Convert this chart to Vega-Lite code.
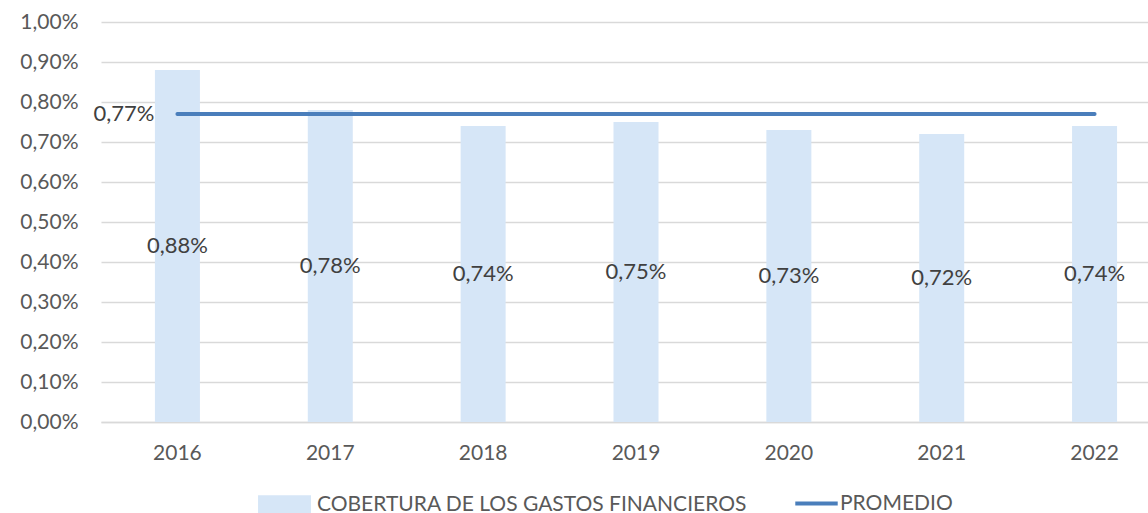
{
  "$schema": "https://vega.github.io/schema/vega-lite/v6.json",
  "autosize": "none",
  "padding": {"left": 101, "top": 22, "right": 0, "bottom": 91},
  "width": 1047,
  "height": 400,
  "background": "white",
  "config": {
    "locale": {"number": {"decimal": ",", "thousands": ".", "grouping": [3], "currency": ["", " €"]}},
    "view": {"stroke": null},
    "font": "Lato",
    "axis": {"labelFont": "Lato", "labelFontSize": 21, "labelColor": "#595959"},
    "legend": {"labelFont": "Lato", "labelFontSize": 21, "labelColor": "#595959", "labelLimit": 800}
  },
  "data": {
    "values": [
      {"year": "2016", "cobertura": 0.0088, "promedio": 0.0077},
      {"year": "2017", "cobertura": 0.0078, "promedio": 0.0077},
      {"year": "2018", "cobertura": 0.0074, "promedio": 0.0077},
      {"year": "2019", "cobertura": 0.0075, "promedio": 0.0077},
      {"year": "2020", "cobertura": 0.0073, "promedio": 0.0077},
      {"year": "2021", "cobertura": 0.0072, "promedio": 0.0077},
      {"year": "2022", "cobertura": 0.0074, "promedio": 0.0077}
    ]
  },
  "encoding": {
    "x": {
      "field": "year", "type": "nominal",
      "scale": {"range": [0, 1070], "paddingInner": 0, "paddingOuter": 0},
      "axis": {"title": null, "labelAngle": 0, "ticks": false, "domainColor": "#d9d9d9", "domainWidth": 1.5, "labelPadding": 20, "grid": false}
    }
  },
  "layer": [
    {
      "mark": {"type": "bar", "width": 45},
      "encoding": {
        "y": {
          "field": "cobertura", "type": "quantitative",
          "scale": {"domain": [0, 0.01], "nice": false},
          "axis": {"title": null, "format": ".2%", "values": [0, 0.001, 0.002, 0.003, 0.004, 0.005, 0.006, 0.007, 0.008, 0.009, 0.01], "domain": false, "ticks": false, "labelPadding": 23, "gridColor": "#d9d9d9", "gridWidth": 1.5}
        },
        "fill": {
          "datum": "COBERTURA DE LOS GASTOS FINANCIEROS",
          "scale": {"range": ["#d6e6f7"]},
          "legend": {"title": null, "orient": "none", "legendX": 157, "legendY": 456, "symbolType": "M-1,-0.35H1V0.35H-1Z", "symbolSize": 2800, "symbolStrokeWidth": 0, "symbolOpacity": 1, "padding": 0, "labelOffset": 6}
        }
      }
    },
    {
      "mark": {"type": "line", "strokeWidth": 4, "strokeCap": "round"},
      "encoding": {
        "y": {"field": "promedio", "type": "quantitative", "scale": {"domain": [0, 0.01], "nice": false}, "axis": null},
        "stroke": {
          "datum": "PROMEDIO",
          "scale": {"range": ["#4a7ebb"]},
          "legend": {"title": null, "orient": "none", "legendX": 692, "legendY": 458, "symbolType": "stroke", "symbolSize": 1800, "symbolStrokeWidth": 4, "padding": 0, "labelOffset": 0}
        }
      }
    },
    {
      "transform": [{"filter": "datum.year == '2016'"}],
      "mark": {"type": "text", "align": "right", "baseline": "middle", "dx": -23, "fontSize": 22, "font": "Lato", "color": "#404040"},
      "encoding": {
        "y": {"field": "promedio", "type": "quantitative", "scale": {"domain": [0, 0.01], "nice": false}, "axis": null},
        "text": {"field": "promedio", "format": ".2%"}
      }
    },
    {
      "mark": {"type": "text", "align": "center", "baseline": "middle", "fontSize": 22, "font": "Lato", "color": "#404040"},
      "encoding": {
        "y": {"field": "cobertura", "type": "quantitative", "scale": {"domain": [0, 0.02], "nice": false}, "axis": null},
        "text": {"field": "cobertura", "format": ".2%"}
      }
    }
  ],
  "resolve": {"scale": {"y": "independent"}}
}
